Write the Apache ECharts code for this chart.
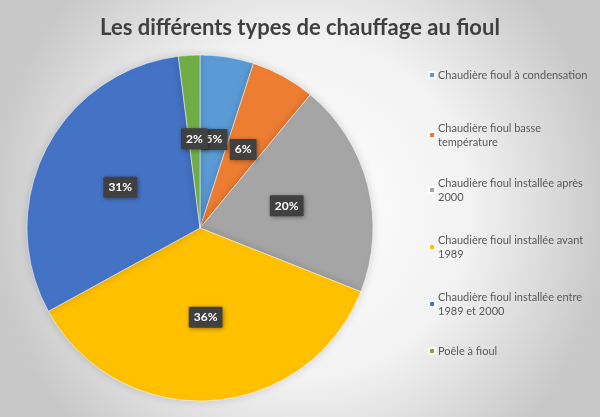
<!DOCTYPE html>
<html>
<head>
<meta charset="utf-8">
<script src="https://cdn.jsdelivr.net/npm/echarts@6/dist/echarts.min.js"></script>
<style>html,body{margin:0;padding:0;}#c{width:600px;height:417px;}</style>
</head>
<body>
<div id="c"></div>
<script>
var titleText = 'Les différents types de chauffage au fioul';
var categories = [
  'Chaudière fioul à condensation',
  'Chaudière fioul basse température',
  'Chaudière fioul installée après 2000',
  'Chaudière fioul installée avant 1989',
  'Chaudière fioul installée entre 1989 et 2000',
  'Poêle à fioul'
];
var legendLabels = [
  'Chaudière fioul à condensation',
  'Chaudière fioul basse\ntempérature',
  'Chaudière fioul installée après\n2000',
  'Chaudière fioul installée avant\n1989',
  'Chaudière fioul installée entre\n1989 et 2000',
  'Poêle à fioul'
];
var values = [5, 6, 20, 36, 31, 2];
var colors = ['#5B9BD5', '#ED7D31', '#A5A5A5', '#FFC000', '#4472C4', '#70AD47'];
var legendTops = [63, 116, 171, 228, 285, 339];

var chart = echarts.init(document.getElementById('c'));
var legends = categories.map(function (name, i) {
  return {
    left: 423, top: legendTops[i], orient: 'vertical',
    data: [name], icon: 'rect', itemWidth: 6, itemHeight: 6, itemGap: 0,
    selectedMode: false,
    formatter: function () { return legendLabels[i]; },
    textStyle: { fontFamily: 'Lato', fontSize: 11, color: '#595959', lineHeight: 14, padding: [0,0,0,-2] },
    align: 'left'
  };
});
chart.setOption({
  backgroundColor: {
    type: 'radial', x: 0.5, y: 0.5, r: 0.75,
    colorStops: [{ offset: 0, color: '#ffffff' }, { offset: 0.55, color: '#f2f2f2' }, { offset: 1, color: '#c8c8c8' }]
  },
  color: colors,
  title: {
    text: titleText, left: 'center', top: 12,
    textStyle: { fontFamily: 'Lato', fontWeight: 'bold', fontSize: 22, color: '#404040' }
  },
  legend: legends,
  series: [{
    type: 'pie',
    center: [200, 228],
    radius: 173,
    startAngle: 90,
    clockwise: true,
    silent: true,
    avoidLabelOverlap: false,
    minShowLabelAngle: 0,
    labelLayout: { hideOverlap: false },
    itemStyle: { borderColor: '#ffffff', borderWidth: 0.5, shadowBlur: 10, shadowColor: 'rgba(0,0,0,0.15)' },
    label: {
      show: true, position: 'inside',
      formatter: function (p) { return p.value + '%'; },
      backgroundColor: '#404040', color: '#ffffff',
      fontFamily: 'Lato', fontWeight: 'bold', fontSize: 12,
      padding: [5, 5, 4, 5], borderRadius: 1,
      shadowBlur: 4, shadowColor: 'rgba(0,0,0,0.4)', shadowOffsetX: 1, shadowOffsetY: 1
    },
    labelLine: { show: false },
    data: categories.map(function (c, i) { return { name: c, value: values[i] }; })
  }]
});
</script>
</body>
</html>
